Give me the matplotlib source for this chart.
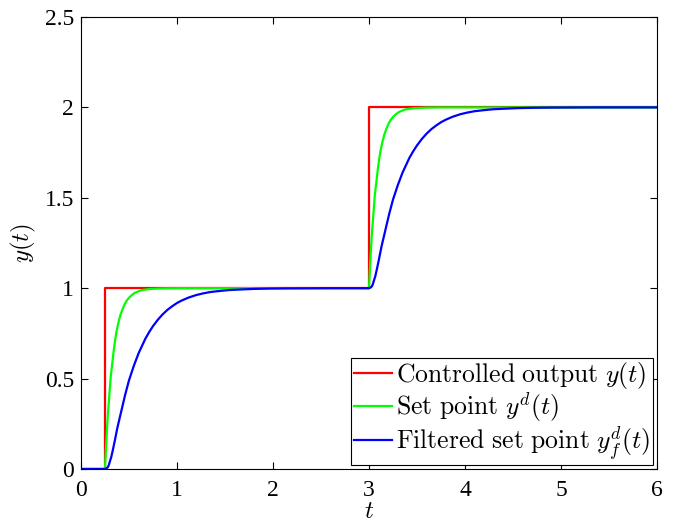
import numpy as np
import matplotlib
matplotlib.use('Agg')
import matplotlib.pyplot as plt

plt.rcParams['font.family'] = ['Liberation Serif', 'DejaVu Serif']
plt.rcParams['mathtext.fontset'] = 'cm'

# controlled output (red step)
t_out = [0, 0.25, 0.25, 3.0, 3.0, 6.0]
y_out = [0, 0, 1, 1, 2, 2]

# set point y^d (green)
t_sp = [0, 0.25, 0.26, 0.27, 0.28, 0.29, 0.30, 0.31, 0.325, 0.34, 0.355, 0.37,
        0.39, 0.41, 0.43, 0.45, 0.475, 0.50, 0.53, 0.56, 0.60, 0.63, 0.68,
        0.72, 0.85, 1.00, 1.50, 3.00,
        3.01, 3.02, 3.03, 3.04, 3.05, 3.06, 3.075, 3.09, 3.105, 3.12, 3.14,
        3.16, 3.18, 3.20, 3.225, 3.25, 3.28, 3.31, 3.35, 3.38, 3.43, 3.47,
        3.60, 3.75, 4.25, 6.00]
y_sp = [0, 0, 0.11, 0.21, 0.30, 0.37, 0.44, 0.51, 0.58, 0.65, 0.71, 0.76,
        0.81, 0.85, 0.88, 0.905, 0.93, 0.947, 0.962, 0.974, 0.983, 0.989, 0.993,
        0.996, 0.999, 1.0, 1.0, 1.0,
        1.11, 1.21, 1.30, 1.37, 1.44, 1.51, 1.58, 1.65, 1.71, 1.76, 1.81,
        1.85, 1.88, 1.905, 1.93, 1.947, 1.962, 1.974, 1.983, 1.989, 1.993, 1.996,
        1.999, 2.0, 2.0, 2.0]

# filtered set point y^d_f (blue)
t_f = [0, 0.25, 0.265, 0.28, 0.29, 0.30, 0.315, 0.33, 0.35, 0.38, 0.42, 0.46,
       0.50, 0.55, 0.60, 0.635, 0.67, 0.71, 0.75, 0.80, 0.85, 0.90, 0.95,
       1.00, 1.05, 1.12, 1.20, 1.27, 1.35, 1.45, 1.55, 1.67, 1.80, 1.97,
       2.15, 2.55, 3.00,
       3.015, 3.03, 3.04, 3.05, 3.065, 3.08, 3.10, 3.13, 3.17, 3.21, 3.25,
       3.30, 3.35, 3.385, 3.42, 3.46, 3.50, 3.55, 3.60, 3.65, 3.70, 3.75,
       3.80, 3.87, 3.95, 4.02, 4.10, 4.20, 4.30, 4.42, 4.55, 4.72, 4.90,
       5.30, 6.00]
y_f = [0, 0, 0.003, 0.01, 0.022, 0.04, 0.065, 0.10, 0.15, 0.23, 0.32, 0.41,
       0.49, 0.57, 0.64, 0.68, 0.72, 0.757, 0.79, 0.825, 0.855, 0.88, 0.90,
       0.918, 0.932, 0.948, 0.962, 0.971, 0.979, 0.985, 0.99, 0.993, 0.996, 0.998,
       0.999, 1.0, 1.0,
       1.003, 1.01, 1.022, 1.04, 1.065, 1.10, 1.15, 1.23, 1.32, 1.41, 1.49,
       1.57, 1.64, 1.68, 1.72, 1.757, 1.79, 1.825, 1.855, 1.88, 1.90, 1.918,
       1.932, 1.948, 1.962, 1.971, 1.979, 1.985, 1.99, 1.993, 1.996, 1.998, 1.999,
       2.0, 2.0]

fig = plt.figure(figsize=(6.77, 5.25), dpi=100)
ax = fig.add_axes([0.1196, 0.1067, 0.8509, 0.8609])

ax.plot(t_out, y_out, color=(1, 0, 0), lw=1.6,
        label=r'$\mathrm{Controlled\ output}\ y(t)$')
ax.plot(t_sp, y_sp, color=(0, 1, 0), lw=1.6,
        label=r'$\mathrm{Set\ point}\ y^d(t)$')
ax.plot(t_f, y_f, color=(0, 0, 1), lw=1.6,
        label=r'$\mathrm{Filtered\ set\ point}\ y_f^d(t)$')

ax.set_xlim(0, 6)
ax.set_ylim(0, 2.5)
ax.set_xticks([0, 1, 2, 3, 4, 5, 6])
ax.set_yticks([0, 0.5, 1, 1.5, 2, 2.5])
ax.set_yticklabels(['0', '0.5', '1', '1.5', '2', '2.5'])
ax.tick_params(direction='in', top=True, right=True, labelsize=17, length=5,
               width=0.8)
ax.tick_params(axis='x', pad=8)
ax.tick_params(axis='y', pad=5)
for s in ax.spines.values():
    s.set_linewidth(0.8)

ax.set_xlabel(r'$t$', fontsize=18, labelpad=0)
ax.set_ylabel(r'$y(t)$', fontsize=18, labelpad=5)

leg = ax.legend(loc='lower right', fontsize=18.5, frameon=True, fancybox=False,
                edgecolor='black', framealpha=1, handlelength=1.5,
                handletextpad=0.15, borderpad=0.1, labelspacing=-0.05,
                borderaxespad=0.15)
leg.get_frame().set_linewidth(0.8)

fig.savefig('out.png', dpi=100)
